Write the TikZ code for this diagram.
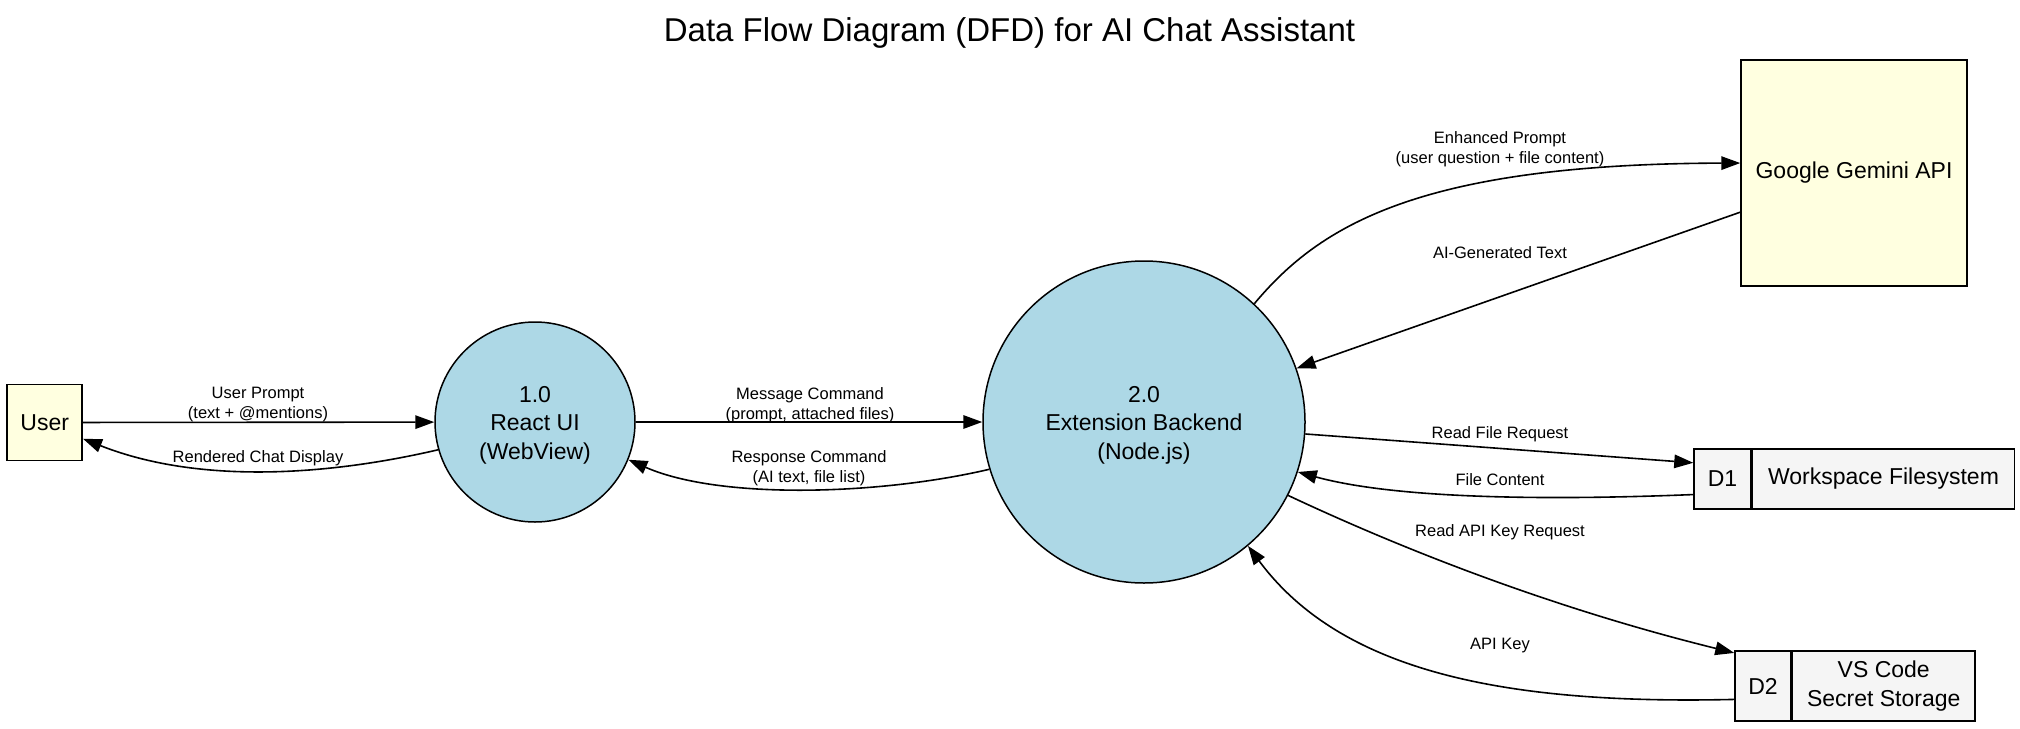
\documentclass[tikz,border=0pt]{standalone}
\usepackage{fontspec}
\setmainfont{Liberation Sans}
\usepackage{xcolor}
\usetikzlibrary{shapes,arrows,positioning,calc,arrows.meta}

\definecolor{entityfill}{HTML}{FFFFE0}
\definecolor{processfill}{HTML}{ADD8E6}
\definecolor{storefill}{HTML}{F5F5F5}

\tikzset{
    shapeline/.style={draw=black, line width=1.5pt},
    entity/.style={shapeline, rectangle, fill=entityfill, inner sep=0pt, font=\fontsize{23}{28.5}\selectfont},
    process/.style={shapeline, circle, fill=processfill, inner sep=0pt, align=center, font=\fontsize{23}{28.5}\selectfont},
    storecell/.style={shapeline, rectangle, fill=storefill, inner sep=0pt, align=center, font=\fontsize{23}{28.5}\selectfont},
    flow/.style={line width=1.6pt, -{Triangle[length=19pt,width=13.5pt]}},
    flowlabel/.style={align=center, inner sep=0pt, font=\fontsize{16.5}{20}\selectfont}
}

\begin{document}
\begin{tikzpicture}[x=1pt, y=-1pt]
    \fill[white] (0,0) rectangle (2020,728);
    \useasboundingbox (0,0) rectangle (2020,728);

    % Title
    \node[anchor=base, font=\fontsize{33}{40}\selectfont] (title) at (1009.5,41.5) {Data Flow Diagram (DFD) for AI Chat Assistant};

    % External entities
    \node[entity, minimum width=75pt, minimum height=76pt] (user) at (44.7,422.5) {User};
    \node[entity, minimum width=226pt, minimum height=226pt] (gemini) at (1854,173) {Google Gemini API};

    % Processes
    \node[process, minimum size=200pt] (react) at (535,422) {\rule{0pt}{22pt}1.0\\React UI\\(WebView)};
    \node[process, minimum size=322pt] (backend) at (1144,422) {\rule{0pt}{22pt}2.0\\Extension Backend\\(Node.js)};

    % Data stores
    \node[storecell, minimum width=57pt, minimum height=60pt] (d1id) at (1722.5,479) {D1};
    \node[storecell, minimum width=262pt, minimum height=60pt, right=0pt of d1id] (d1name) {Workspace Filesystem};
    \node[storecell, minimum width=56pt, minimum height=70pt] (d2id) at (1763,686) {D2};
    \node[storecell, minimum width=182.5pt, minimum height=70pt, right=0pt of d2id] (d2name) {VS Code\\Secret Storage};

    % User <-> React UI
    \draw[flow] (user) -- (react);
    \node[flowlabel] (lblprompt) at (258,405) {User Prompt\\(text + @mentions)};
    \draw[flow] (react.196) .. controls (330,475) and (200,485) .. (user.-23);
    \node[flowlabel] (lbldisplay) at (258,458) {Rendered Chat Display};

    % React UI <-> Backend
    \draw[flow] (react) -- (backend);
    \node[flowlabel] (lblmessage) at (810,405) {Message Command\\(prompt, attached files)};
    \draw[flow] (backend.197) .. controls (880,495) and (720,500) .. (react.-22);
    \node[flowlabel] (lblresponse) at (809,468.5) {Response Command\\(AI text, file list)};

    % Backend <-> Gemini
    \draw[flow] (backend.47) .. controls (1320,225) and (1420,164) .. (gemini.175);
    \node[flowlabel] (lblenhanced) at (1500,149) {Enhanced Prompt\\(user question + file content)};
    \draw[flow] (gemini.199) -- (backend);
    \node[flowlabel] (lblgenerated) at (1500,252.5) {AI-Generated Text};

    % Backend <-> D1
    \draw[flow] (backend) -- (d1id.151);
    \node[flowlabel] (lblreadfile) at (1500,434.5) {Read File Request};
    \draw[flow] (d1id.208) .. controls (1560,500) and (1400,500) .. (backend.-18);
    \node[flowlabel] (lblcontent) at (1500,479.5) {File Content};

    % Backend <-> D2
    \draw[flow] (backend.-27) .. controls (1432,563) and (1580,615) .. (d2id.131);
    \node[flowlabel] (lblreadkey) at (1500,532.5) {Read API Key Request};
    \draw[flow] (d2id.205) .. controls (1500,705) and (1340,670) .. (backend.-50);
    \node[flowlabel] (lblkey) at (1500,645.5) {API Key};
\end{tikzpicture}
\end{document}
